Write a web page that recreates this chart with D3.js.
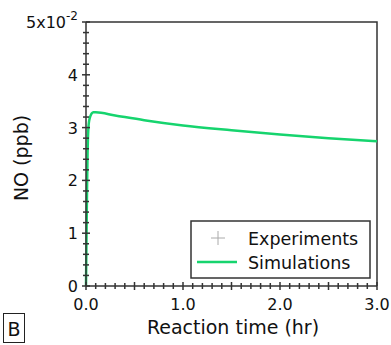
<!DOCTYPE html>
<html><head><meta charset="utf-8">
<script src="https://cdn.jsdelivr.net/npm/d3@7"></script>
<style>body{margin:0;background:#fff}svg{display:block}text{font-family:"DejaVu Sans",sans-serif;fill:#111}</style>
</head><body><svg id="c" width="391" height="345"></svg>
<script>
const simTime = [0, 0.004, 0.008, 0.012, 0.016, 0.02, 0.025, 0.03, 0.04, 0.05, 0.06, 0.075, 0.1, 0.3, 0.6, 1.0, 1.5, 2.0, 2.5, 3.0];
const simNO   = [0, 0.7, 1.4, 2.0, 2.5, 2.8, 3.0, 3.1, 3.19, 3.24, 3.27, 3.29, 3.29, 3.23, 3.14, 3.04, 2.95, 2.87, 2.8, 2.74];
const xTicks = [0, 1, 2, 3];
const xTickLabels = ["0.0", "1.0", "2.0", "3.0"];
const yTicks = [0, 1, 2, 3, 4];
const legendLabels = ["Experiments", "Simulations"];

const svg = d3.select("#c");
const m = {l:86, r:377, t:22, b:286};
const x = d3.scaleLinear().domain([0,3]).range([m.l, m.r]);
const y = d3.scaleLinear().domain([0,5]).range([m.b, m.t]);
const axisCol = "#333";

svg.append("path").attr("d", `M${m.l},${m.t}H${m.r}V${m.b}`).attr("fill","none").attr("stroke",axisCol).attr("stroke-width",1.5);

const line = d3.line().x((d,i)=>x(simTime[i])).y(d=>y(d)).curve(d3.curveMonotoneX);
svg.append("path").datum(simNO).attr("d", line).attr("fill","none").attr("stroke","#16d46e").attr("stroke-width",2.5);

svg.append("line").attr("x1",m.l).attr("x2",m.l).attr("y1",m.t).attr("y2",m.b).attr("stroke",axisCol).attr("stroke-width",1.5);
const yMinor = d3.range(0, 5.001, 0.2);
svg.selectAll(".ym").data(yMinor).join("line")
  .attr("x1", d => Math.abs(d - Math.round(d)) < 1e-6 ? m.l-4 : m.l-3)
  .attr("x2", d => Math.abs(d - Math.round(d)) < 1e-6 ? m.l+4 : m.l+3)
  .attr("y1", d=>y(d)).attr("y2", d=>y(d)).attr("stroke",axisCol).attr("stroke-width",1.5);
svg.selectAll(".yl").data(yTicks).join("text")
  .attr("x", m.l-8).attr("y", d=>y(d)+6).attr("text-anchor","end").attr("font-size",16).text(d=>d);
const topLabel = svg.append("text").attr("x", m.l-8).attr("y", y(5)+6).attr("text-anchor","end").attr("font-size",16);
topLabel.append("tspan").text("5x10");
topLabel.append("tspan").attr("dy",-8).attr("font-size",12).text("-2");

svg.append("line").attr("x1",m.l).attr("x2",m.r).attr("y1",m.b).attr("y2",m.b).attr("stroke",axisCol).attr("stroke-width",1.5);
const xMinor = d3.range(0, 3.0001, 0.1);
svg.selectAll(".xm").data(xMinor).join("line")
  .attr("x1", d=>x(d)).attr("x2", d=>x(d))
  .attr("y1", d => { const r = Math.round(d*10); return r%5===0 ? m.b-4 : m.b-3; })
  .attr("y2", d => { const r = Math.round(d*10); return r%5===0 ? m.b+4 : m.b+3; })
  .attr("stroke",axisCol).attr("stroke-width",1.5);
svg.selectAll(".xl").data(xTicks).join("text")
  .attr("x", d=>x(d)).attr("y", m.b+24).attr("text-anchor","middle").attr("font-size",16).text((d,i)=>xTickLabels[i]);

svg.append("text").attr("x", 233).attr("y", 334).attr("text-anchor","middle").attr("font-size",19).text("Reaction time (hr)");
svg.append("text").attr("transform", `translate(28,158) rotate(-90)`).attr("text-anchor","middle").attr("font-size",19).text("NO (ppb)");

const lg = svg.append("g");
lg.append("rect").attr("x",191).attr("y",221).attr("width",179).attr("height",57).attr("fill","#fff").attr("stroke","#333").attr("stroke-width",1.5);
lg.append("path").attr("d","M218,231V245M211,238H225").attr("stroke","#aaa").attr("stroke-width",1);
lg.append("line").attr("x1",197).attr("x2",237).attr("y1",262).attr("y2",262).attr("stroke","#16d46e").attr("stroke-width",2.5);
lg.selectAll(".lt").data(legendLabels).join("text").attr("x",248).attr("y",(d,i)=>245+i*24).attr("font-size",17.5).text(d=>d);

svg.append("rect").attr("x",3.5).attr("y",313.5).attr("width",21).attr("height",29).attr("fill","none").attr("stroke","#222").attr("stroke-width",1);
svg.append("text").attr("x",14).attr("y",336).attr("text-anchor","middle").attr("font-size",19).text("B");
</script></body></html>
